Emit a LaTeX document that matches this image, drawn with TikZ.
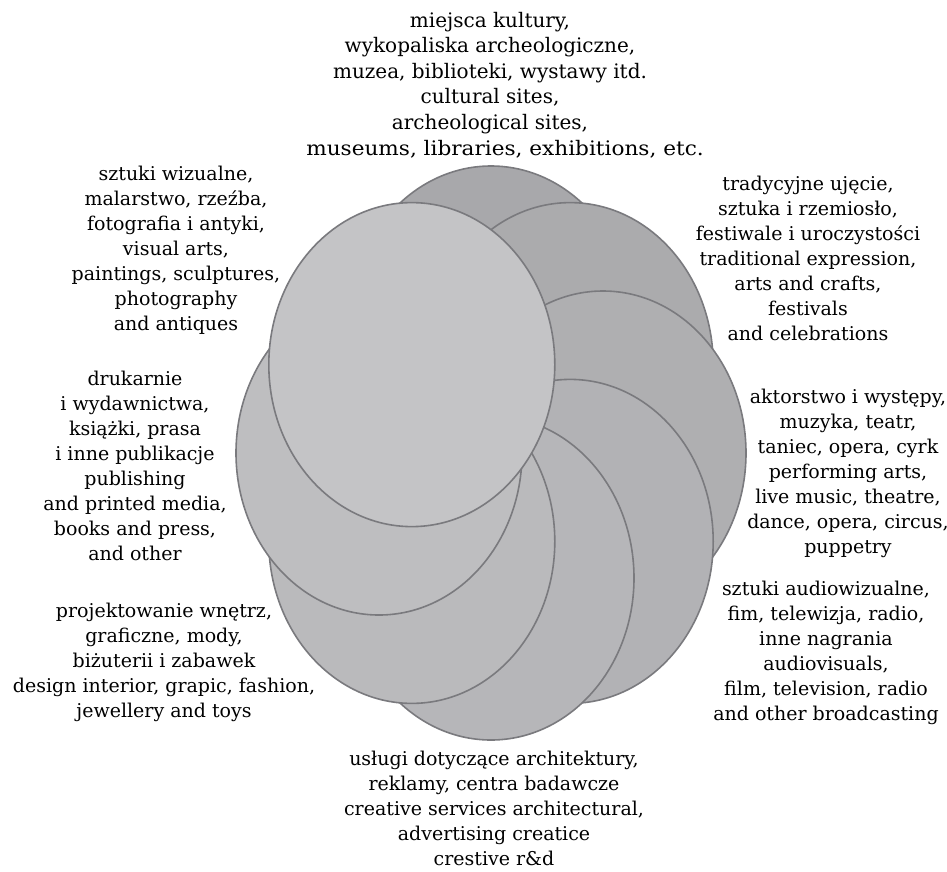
\documentclass[tikz,border=0pt]{standalone}
\usepackage{fontspec}
\setmainfont{DejaVu Serif}
\definecolor{ringline}{RGB}{122,122,126}
\definecolor{ringfill}{RGB}{0,0,8}
\tikzset{
  blob/.style={draw=ringline, line width=1.6pt},
  blurb/.style={align=center, inner sep=0pt, anchor=base, font=\fontsize{19}{25}\selectfont},
}
\begin{document}
\begin{tikzpicture}[x=1pt,y=-1pt]
	\useasboundingbox (0,0) rectangle (947,871);
	% the ring of overlapping circles, clockwise from the top
	\foreach \ang/\tone in {90/34,45/33,0/31.5,-45/30,-90/28.5,-135/27,180/25.5,135/23}
		\filldraw [blob, fill=ringfill!\tone] ({491+112*cos(\ang)},{453-125*sin(\ang)}) ellipse [x radius=143, y radius=162];
	% texts round the ring (anchored at the baseline of their last line)
	\node [blurb, font=\fontsize{20}{25.6}\selectfont] (sites) at (490,155) {miejsca kultury,\\ wykopaliska archeologiczne,\\ muzea, biblioteki, wystawy itd.\\ cultural sites,\\ archeological sites,\\ \hspace*{30pt}\scalebox{1.08}[1]{museums, libraries, exhibitions, etc.}};
	\node [blurb] (crafts) at (808,340) {tradycyjne ujęcie,\\ sztuka i rzemiosło,\\ festiwale i uroczystości\\ traditional expression,\\ arts and crafts,\\ festivals\\ and celebrations};
	\node [blurb] (stage) at (848,553) {aktorstwo i występy,\\ muzyka, teatr,\\ taniec, opera, cyrk\\ performing arts,\\ live music, theatre,\\ dance, opera, circus,\\ puppetry};
	\node [blurb] (media) at (826,720) {sztuki audiowizualne,\\ fim, telewizja, radio,\\ inne nagrania\\ audiovisuals,\\ film, television, radio\\ and other broadcasting};
	\node [blurb] (services) at (494,865) {usługi dotyczące architektury,\\ reklamy, centra badawcze\\ creative services architectural,\\ advertising creatice\\ crestive r\&d};
	\node [blurb] (design) at (164,717) {projektowanie wnętrz,\\ graficzne, mody,\\ biżuterii i zabawek\\ design interior, grapic, fashion,\\ jewellery and toys};
	\node [blurb] (press) at (135,560) {drukarnie\\ i wydawnictwa,\\ książki, prasa\\ i inne publikacje\\ publishing\\ and printed media,\\ books and press,\\ and other};
	\node [blurb] (visual) at (176,330) {sztuki wizualne,\\ malarstwo, rzeźba,\\ fotografia i antyki,\\ visual arts,\\ paintings, sculptures,\\ photography\\ and antiques};
\end{tikzpicture}
\end{document}
